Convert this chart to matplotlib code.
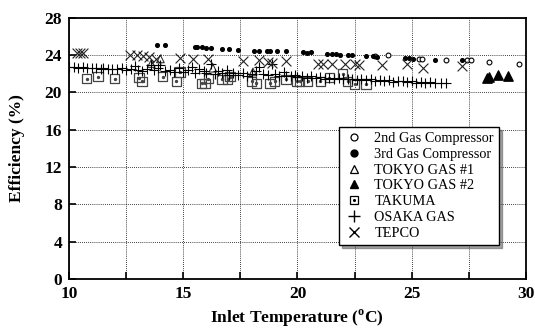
import matplotlib
matplotlib.use("Agg")
import matplotlib.pyplot as plt
from matplotlib.ticker import MultipleLocator

plt.rcParams["font.family"] = ["Liberation Serif", "DejaVu Serif"]
plt.rcParams["mathtext.fontset"] = "custom"
plt.rcParams["mathtext.rm"] = "Liberation Serif:bold"
plt.rcParams["mathtext.bf"] = "Liberation Serif:bold"

# 2nd gas compressor (open circles)
comp2_t = [23.4, 23.96, 25.3, 25.45, 26.5, 27.4, 27.6, 28.4, 29.7]
comp2_e = [23.9, 24.0, 23.6, 23.6, 23.5, 23.5, 23.5, 23.3, 23.1]

# 3rd gas compressor (filled dots)
comp3_t = [13.84, 14.2, 15.5, 15.6, 15.8, 16.0, 16.2, 16.7, 17.0, 17.4, 18.1, 18.3,
           18.65, 18.8, 19.1, 19.5, 20.25, 20.4, 20.6, 21.3, 21.5, 21.7, 21.85, 22.2,
           22.4, 23.0, 23.3, 23.5, 24.7, 24.9, 25.05, 26.0, 27.2]
comp3_e = [25.1, 25.1, 24.9, 24.9, 24.9, 24.8, 24.8, 24.7, 24.7, 24.6, 24.5, 24.5,
           24.5, 24.4, 24.4, 24.4, 24.3, 24.2, 24.3, 24.1, 24.1, 24.1, 24.0, 24.0,
           24.0, 23.9, 23.9, 23.8, 23.7, 23.7, 23.6, 23.5, 23.5]

# Tokyo Gas units
tg1_t = [13.6, 14.0, 16.3, 18.05]
tg1_e = [23.1, 23.6, 22.6, 22.2]
tg2_t = [28.3, 28.4, 28.8, 29.2]
tg2_e = [21.6, 21.7, 21.9, 21.8]

# Takuma (squares)
takuma_t = [10.77, 11.27, 12.0, 13.06, 13.2, 14.1, 14.7, 14.86, 15.8, 15.95, 16.1,
            16.7, 16.95, 17.05, 18.0, 18.2, 18.8, 19.0, 19.5, 19.96, 20.1, 20.45,
            21.0, 21.4, 21.98, 22.2, 22.5, 23.0]
takuma_e = [21.5, 21.7, 21.5, 21.6, 21.2, 21.7, 21.2, 22.2, 21.0, 21.0, 21.5,
            21.4, 21.4, 21.7, 21.2, 21.0, 21.0, 21.2, 21.4, 21.2, 21.2, 21.2,
            21.2, 21.6, 22.0, 21.2, 20.9, 20.9]

# Osaka Gas (plus signs)
osaka_t = [10.0, 10.2, 10.4, 10.6, 10.8, 11.0, 11.2, 11.4, 11.5, 11.7, 11.9, 12.1,
           12.3, 12.5, 12.7, 12.9, 13.0, 13.2, 13.4, 13.6, 13.7, 13.9, 14.0, 14.2,
           14.4, 14.6, 14.8, 15.0, 15.2, 15.4, 15.5, 15.7, 15.9, 16.0, 16.2, 16.4,
           16.5, 16.7, 16.9, 17.0, 17.2, 17.4, 17.6, 17.8, 18.0, 18.2, 18.3, 18.5,
           18.7, 18.9, 19.0, 19.2, 19.4, 19.5, 19.7, 19.9, 20.0, 20.2, 20.4, 20.6,
           20.8, 21.0, 21.2, 21.4, 21.6, 21.8, 22.0, 22.2, 22.4, 22.6, 22.8, 23.0,
           23.2, 23.4, 23.6, 23.8, 24.0, 24.2, 24.4, 24.6, 24.8, 25.0, 25.2, 25.4,
           25.6, 25.8, 26.0, 26.3, 26.5]
osaka_e = [22.7, 22.7, 22.6, 22.7, 22.6, 22.6, 22.6, 22.5, 22.6, 22.5, 22.5, 22.5,
           22.6, 22.4, 22.5, 22.8, 22.4, 22.3, 22.5, 23.0, 22.4, 22.6, 22.9, 22.3,
           22.4, 22.2, 22.6, 22.2, 22.4, 22.7, 22.1, 22.5, 22.3, 22.1, 23.1, 22.0,
           22.3, 22.1, 22.4, 21.9, 22.1, 21.9, 22.1, 21.8, 22.0, 22.3, 22.7, 22.0,
           21.9, 23.1, 22.0, 21.8, 22.2, 21.8, 21.8, 21.9, 21.7, 21.8, 21.6, 21.8,
           21.6, 21.7, 21.5, 21.6, 21.5, 21.6, 21.4, 21.5, 21.4, 21.3, 21.5, 21.3,
           21.4, 21.2, 21.3, 21.2, 21.3, 21.1, 21.2, 21.2, 21.1, 21.2, 21.0, 21.1,
           21.0, 21.1, 21.0, 21.0, 21.0]

# TEPCO (crosses)
tepco_t = [10.34, 10.5, 10.6, 12.67, 12.96, 13.24, 13.5, 13.8, 14.86, 15.43, 16.1,
           17.6, 18.3, 18.7, 18.9, 19.5, 20.9, 21.1, 21.5, 22.1, 22.5, 22.7, 23.7,
           24.8, 25.5, 27.2]
tepco_e = [24.2, 24.2, 24.2, 24.0, 24.0, 23.9, 23.8, 23.6, 23.7, 23.6, 23.6,
           23.4, 23.5, 23.3, 23.2, 23.4, 23.1, 23.1, 23.1, 23.1, 23.1, 23.0, 23.0,
           23.1, 22.6, 22.8]

fig = plt.figure(figsize=(5.35, 3.31), dpi=100)
ax = fig.add_axes([0.129, 0.157, 0.854, 0.789])

ax.scatter(comp2_t, comp2_e, s=12, facecolors="white", edgecolors="black", linewidths=0.8, zorder=3)
ax.scatter(comp3_t, comp3_e, s=7, color="black", zorder=3)
ax.scatter(tg1_t, tg1_e, s=30, marker="^", facecolors="none", edgecolors="#333333", linewidths=0.8, zorder=3)
ax.scatter(tg2_t, tg2_e, s=45, marker="^", color="black", zorder=3)
ax.scatter(takuma_t, takuma_e, s=45, marker="s", facecolors="none", edgecolors="#444444", linewidths=0.9, zorder=3)
ax.scatter(takuma_t, takuma_e, s=2, color="#444444", zorder=3)
ax.scatter(osaka_t, osaka_e, s=50, marker="+", color="black", linewidths=0.8, zorder=3)
ax.scatter(tepco_t, tepco_e, s=50, marker="x", color="#222222", linewidths=0.8, zorder=3)

# legend entries
h_c2, = ax.plot([], [], "o", ms=5, mfc="white", mec="black", mew=0.9)
h_c3, = ax.plot([], [], "o", ms=5, color="black")
h_t1, = ax.plot([], [], "^", ms=5.5, mfc="none", mec="black", mew=0.9)
h_t2, = ax.plot([], [], "^", ms=6, color="black")
h_sq, = ax.plot([], [], "s", ms=5.5, mfc="none", mec="black", mew=0.9)
h_dot, = ax.plot([], [], "o", ms=1.2, color="black")
h_os, = ax.plot([], [], "+", ms=8, color="black", mew=1.0)
h_tp, = ax.plot([], [], "x", ms=7, color="black", mew=1.0)
leg = ax.legend([h_c2, h_c3, h_t1, h_t2, (h_sq, h_dot), h_os, h_tp],
                ["2nd Gas Compressor", "3rd Gas Compressor", "TOKYO GAS #1",
                 "TOKYO GAS #2", "TAKUMA", "OSAKA GAS", "TEPCO"],
                loc="lower right", bbox_to_anchor=(0.941, 0.13), borderaxespad=0,
                fontsize=10.3, frameon=True, fancybox=False, shadow=True,
                handlelength=1.3, handletextpad=0.8, labelspacing=0.2, borderpad=0.35)
leg.get_frame().set_edgecolor("black")
leg.get_frame().set_linewidth(1.0)

ax.set_xlim(10, 30)
ax.set_ylim(0, 28)
ax.xaxis.set_major_locator(MultipleLocator(5))
ax.xaxis.set_minor_locator(MultipleLocator(2.5))
ax.yaxis.set_major_locator(MultipleLocator(4))
ax.grid(True, which="both", axis="x", color="black", linestyle=(0, (1, 1.5)), linewidth=0.6)
ax.grid(True, which="major", axis="y", color="black", linestyle=(0, (1, 1.5)), linewidth=0.6)
ax.set_axisbelow(True)
ax.tick_params(which="both", direction="in", labelsize=12.5, width=1.2, length=5)
ax.tick_params(axis="y", pad=5)
ax.tick_params(axis="x", pad=5)
for lbl in ax.get_xticklabels() + ax.get_yticklabels():
    lbl.set_fontweight("bold")
for sp in ax.spines.values():
    sp.set_linewidth(1.3)

ax.set_xlabel(r"Inlet Temperature ($^{\rm o}$C)", fontsize=12.5, fontweight="bold", labelpad=4)
ax.set_ylabel("Efficiency (%)", fontsize=12.5, fontweight="bold", labelpad=14)

fig.savefig("out.png", dpi=100)
